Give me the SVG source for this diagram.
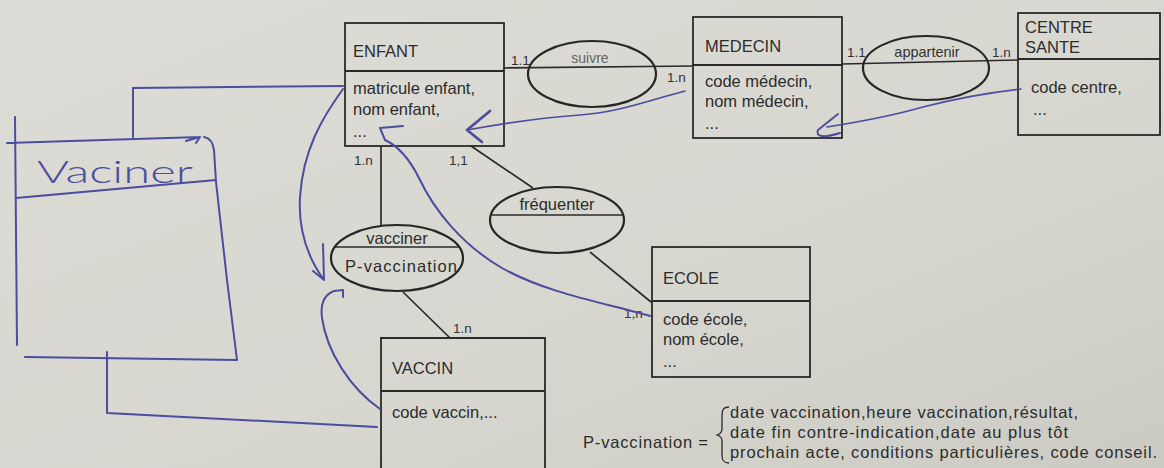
<svg xmlns="http://www.w3.org/2000/svg" width="1164" height="468" viewBox="0 0 1164 468">
<defs>
<linearGradient id="bg" x1="0" y1="0" x2="1" y2="1">
<stop offset="0" stop-color="#dddcd6"/>
<stop offset="0.6" stop-color="#d7d7d0"/>
<stop offset="1" stop-color="#cccbc3"/>
</linearGradient>
<style>
.box{fill:none;stroke:#2a2a2a;stroke-width:1.8}
.ell{fill:none;stroke:#262626;stroke-width:2.2}
.ln{fill:none;stroke:#2a2a2a;stroke-width:1.7}
.pen{fill:none;stroke:#4b4d9e;stroke-width:2;stroke-linecap:round;stroke-linejoin:round}
.t{font-family:"Liberation Sans",Arial,sans-serif;font-size:16.5px;fill:#2c2c2c}
.c{font-family:"Liberation Sans",Arial,sans-serif;font-size:13.5px;fill:#333}
.hand{font-family:Lato,"DejaVu Sans",sans-serif;font-weight:300;font-size:32px;fill:#4b4d9e}
</style>
</defs>
<rect width="1164" height="468" fill="url(#bg)"/>

<g id="connectors">
<path class="ln" d="M504,68 L693,66"/>
<path class="ln" d="M842,64 L1018,60"/>
<path class="ln" d="M381,146 L381,225"/>
<path class="ln" d="M471,146 L533,188"/>
<path class="ln" d="M590,252 L651,302"/>
<path class="ln" d="M403,292 L450,338"/>
<text class="c" x="511" y="65">1.1</text>
<text class="c" x="667" y="82">1.n</text>
<text class="c" x="847" y="57">1.1</text>
<text class="c" x="992" y="57">1.n</text>
<text class="c" x="354" y="165">1.n</text>
<text class="c" x="449" y="165">1,1</text>
<text class="c" x="624" y="318">1,n</text>
<text class="c" x="453" y="333">1.n</text>
</g>

<g id="enfant">
<rect class="box" x="345" y="23" width="159" height="123"/>
<path class="box" d="M345,71 H504"/>
<text class="t" x="353" y="57">ENFANT</text>
<text class="t" x="353" y="94">matricule enfant,</text>
<text class="t" x="353" y="115">nom enfant,</text>
<text class="t" x="353" y="137">...</text>
</g>

<g id="medecin">
<rect class="box" x="693" y="17" width="149" height="121"/>
<path class="box" d="M693,65 H842"/>
<text class="t" x="705" y="52">MEDECIN</text>
<text class="t" x="705" y="87">code médecin,</text>
<text class="t" x="705" y="107">nom médecin,</text>
<text class="t" x="705" y="129">...</text>
</g>

<g id="centre-sante">
<rect class="box" x="1018" y="13" width="142" height="122"/>
<path class="box" d="M1018,59 H1160"/>
<text class="t" x="1025" y="33">CENTRE</text>
<text class="t" x="1025" y="53">SANTE</text>
<text class="t" x="1031" y="93">code centre,</text>
<text class="t" x="1033" y="115">...</text>
</g>

<g id="ecole">
<rect class="box" x="652" y="247" width="158" height="130"/>
<path class="box" d="M652,301 H810"/>
<text class="t" x="663" y="284">ECOLE</text>
<text class="t" x="663" y="325">code école,</text>
<text class="t" x="663" y="345">nom école,</text>
<text class="t" x="663" y="367">...</text>
</g>

<g id="vaccin">
<path class="box" d="M381,470 V338 H545 V470"/>
<path class="box" d="M381,391 H545"/>
<text class="t" x="392" y="374">VACCIN</text>
<text class="t" x="392" y="418">code vaccin,...</text>
</g>

<g id="suivre">
<ellipse class="ell" cx="592" cy="74" rx="64" ry="33"/>
<text class="c" x="590" y="63" text-anchor="middle" style="fill:#666;font-size:14px">suivre</text>
</g>

<g id="appartenir">
<ellipse class="ell" cx="926" cy="68" rx="63" ry="32"/>
<text class="c" x="927" y="57" text-anchor="middle" style="font-size:14.5px">appartenir</text>
</g>

<g id="frequenter">
<ellipse class="ell" cx="557" cy="220" rx="67" ry="33"/>
<path class="ln" d="M491,215 H623"/>
<text class="t" x="557" y="210" text-anchor="middle">fréquenter</text>
</g>

<g id="vacciner">
<ellipse class="ell" cx="397" cy="258" rx="66" ry="33"/>
<path class="ln" d="M335,247 H459"/>
<text class="t" x="397" y="244" text-anchor="middle">vacciner</text>
<text class="t" x="401" y="272" text-anchor="middle" textLength="112">P-vaccination</text>
</g>

<g id="vaciner-box">
<path class="pen" d="M15,117 L17,345 M25,357 L237,360 M7,143 L200,137 M186,141 L200,137 L196,143 M204,137 C210,138 213,142 214,150 L216,182 L227,280 L237,360 M16,198 L216,180"/>
<text class="hand" x="37" y="183" textLength="156" lengthAdjust="spacingAndGlyphs">Vaciner</text>
</g>

<g id="pen-connectors">
<path class="pen" d="M133,137 L133,88 L343,86"/>
<path class="pen" d="M107,352 L107,413 L377,427"/>
<path class="pen" d="M343,89 C322,118 303,150 300,197 C298,232 308,258 324,280 M313,271 L324,280 L323,244"/>
<path class="pen" d="M380,409 C350,388 327,352 322,318 C320,302 326,294 334,291 L343,290 L343,297"/>
<path class="pen" d="M650,316 C610,304 548,294 502,268 C462,245 434,210 419,178 C410,160 398,146 385,140 L380,128 L403,126"/>
<path class="pen" style="stroke-width:1.6" d="M685,91 C650,100 620,112 580,115 C540,118 510,122 467,130"/>
<path class="pen" style="stroke-width:2.8" d="M490,111 L467,130 L482,142"/>
<path class="pen" style="stroke-width:1.6" d="M1021,89 C985,93 950,100 923,107 C895,115 865,121 827,127"/>
<path class="pen" d="M838,114 L818,130 C815,137 824,138 840,133"/>
</g>

<g id="legend">
<text class="t" x="583" y="448" textLength="125">P-vaccination =</text>
<path class="ln" style="stroke-width:1.3" d="M729,407 C723,407 722,410 722,416 L722,429 C722,433 720,434 717,435 C720,436 722,437 722,441 L722,455 C722,461 724,463 729,463"/>
<text class="t" x="730" y="418" textLength="348">date vaccination,heure vaccination,résultat,</text>
<text class="t" x="730" y="438" textLength="338">date fin contre-indication,date au plus tôt</text>
<text class="t" x="730" y="458" textLength="427">prochain acte, conditions particulières, code conseil.</text>
</g>
</svg>
